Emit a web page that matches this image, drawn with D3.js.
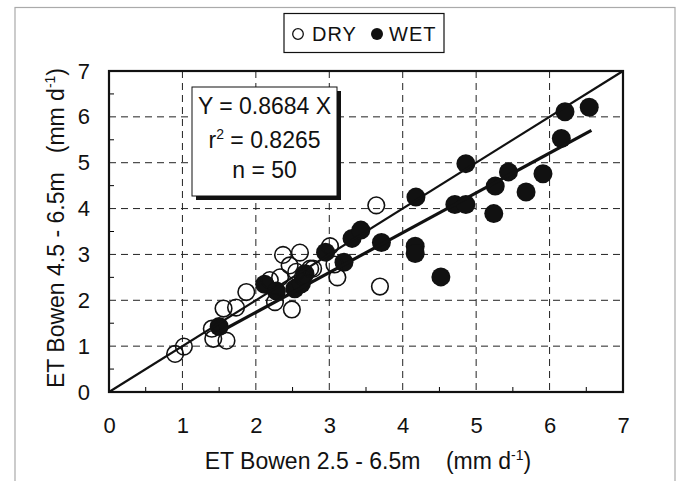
<!DOCTYPE html>
<html><head><meta charset="utf-8">
<script src="https://cdn.jsdelivr.net/npm/d3@7"></script>
<style>body{margin:0;background:#fff}svg{display:block;font-family:"Liberation Sans",Arial,sans-serif}</style>
</head><body>
<svg id="c" width="677" height="481"></svg>
<script>
// ---- data ----
const xTickValues = [0,1,2,3,4,5,6,7];
const yTickValues = [0,1,2,3,4,5,6,7];
const dryX = [0.90,1.02,1.40,1.42,1.60,1.56,1.73,1.87,2.19,2.26,2.33,2.37,2.46,2.49,2.60,2.64,2.74,2.78,3.01,3.07,3.11,3.64,3.69,2.55];
const dryY = [0.83,0.99,1.38,1.16,1.12,1.82,1.84,2.18,2.44,1.96,2.50,2.99,2.76,1.80,3.04,2.51,2.69,2.69,3.18,2.78,2.50,4.07,2.30,2.62];
const wetX = [1.50,2.12,2.28,2.53,2.62,2.67,2.95,3.20,3.31,3.43,3.71,4.18,4.17,4.17,4.52,4.71,4.86,4.86,5.24,5.26,5.44,5.68,5.91,6.16,6.21,6.54];
const wetY = [1.43,2.35,2.20,2.25,2.36,2.58,3.05,2.83,3.35,3.53,3.26,4.25,3.18,3.02,2.51,4.09,4.09,4.98,3.89,4.49,4.80,4.36,4.76,5.53,6.11,6.21];
const slope = 0.8684;
const fitRange = [1.45, 6.57];
const oneToOne = [0, 7];
const statLines = ["Y = 0.8684 X", "r2 = 0.8265", "n = 50"];
const legendLabels = ["DRY", "WET"];

// ---- layout ----
const svg = d3.select("#c");
const L = 109, R = 623, T = 71, B = 392;
const x = d3.scaleLinear().domain([0,7]).range([L,R]);
const y = d3.scaleLinear().domain([0,7]).range([B,T]);

// outer frame
svg.append("rect").attr("x",15).attr("y",7.5).attr("width",660).attr("height",480)
  .attr("fill","none").attr("stroke","#aaa").attr("stroke-width",1.2);

// grid
const g = svg.append("g");
g.selectAll(".vg").data(xTickValues.slice(1,-1)).join("line")
  .attr("x1",d=>x(d)).attr("x2",d=>x(d)).attr("y1",T).attr("y2",B)
  .attr("stroke","#222").attr("stroke-width",1).attr("stroke-dasharray","7,5");
g.selectAll(".hg").data(yTickValues.slice(1,-1)).join("line")
  .attr("y1",d=>y(d)).attr("y2",d=>y(d)).attr("x1",L).attr("x2",R)
  .attr("stroke","#222").attr("stroke-width",1).attr("stroke-dasharray","7,5");

// minor ticks
const halves = d3.range(0.5,7,1);
g.selectAll(".mx").data(halves).join("line")
  .attr("x1",d=>x(d)).attr("x2",d=>x(d)).attr("y1",B).attr("y2",B-5)
  .attr("stroke","#000").attr("stroke-width",1);
g.selectAll(".my").data(halves).join("line")
  .attr("y1",d=>y(d)).attr("y2",d=>y(d)).attr("x1",L).attr("x2",L+5)
  .attr("stroke","#000").attr("stroke-width",1);

// axes labels
const ax = svg.append("g").attr("transform",`translate(0,${B})`)
  .call(d3.axisBottom(x).tickValues(xTickValues).tickSize(0).tickPadding(25).tickFormat(d3.format("d")));
ax.select(".domain").remove();
ax.selectAll("text").attr("font-size",22).attr("fill","#111").attr("font-family","Liberation Sans, Arial, sans-serif");
const ay = svg.append("g").attr("transform",`translate(${L},0)`)
  .call(d3.axisLeft(y).tickValues(yTickValues).tickSize(0).tickPadding(19).tickFormat(d3.format("d")));
ay.select(".domain").remove();
ay.selectAll("text").attr("font-size",22).attr("fill","#111").attr("font-family","Liberation Sans, Arial, sans-serif");

// points
svg.append("g").selectAll("circle").data(d3.zip(wetX,wetY)).join("circle")
  .attr("cx",d=>x(d[0])).attr("cy",d=>y(d[1])).attr("r",9.5).attr("fill","#111");
svg.append("g").selectAll("circle").data(d3.zip(dryX,dryY)).join("circle")
  .attr("cx",d=>x(d[0])).attr("cy",d=>y(d[1])).attr("r",8.3)
  .attr("fill","none").attr("stroke","#111").attr("stroke-width",1.6);

// lines
svg.append("line").attr("x1",x(oneToOne[0])).attr("y1",y(oneToOne[0]))
  .attr("x2",x(oneToOne[1])).attr("y2",y(oneToOne[1])).attr("stroke","#111").attr("stroke-width",2.2);
svg.append("line").attr("x1",x(fitRange[0])).attr("y1",y(slope*fitRange[0]))
  .attr("x2",x(fitRange[1])).attr("y2",y(slope*fitRange[1])).attr("stroke","#111").attr("stroke-width",3.2);

// plot frame
svg.append("rect").attr("x",L).attr("y",T).attr("width",R-L).attr("height",B-T)
  .attr("fill","none").attr("stroke","#111").attr("stroke-width",2.2);

// stats box
const bx=192, by=87, bw=145, bh=109;
svg.append("rect").attr("x",bx+4).attr("y",by+4).attr("width",bw).attr("height",bh).attr("fill","#111");
svg.append("rect").attr("x",bx).attr("y",by).attr("width",bw).attr("height",bh)
  .attr("fill","#fff").attr("stroke","#111").attr("stroke-width",1);
const st = svg.append("g").attr("font-size",23).attr("fill","#111").attr("text-anchor","middle");
st.append("text").attr("x",bx+bw/2).attr("y",114).text(statLines[0]);
const t2 = st.append("text").attr("x",bx+bw/2).attr("y",148);
t2.append("tspan").text("r");
t2.append("tspan").attr("font-size",14).attr("dy",-9).text("2");
t2.append("tspan").attr("dy",9).text(statLines[1].slice(2));
st.append("text").attr("x",bx+bw/2).attr("y",178).text(statLines[2]);

// legend
svg.append("rect").attr("x",284).attr("y",13.5).attr("width",160).attr("height",39)
  .attr("fill","#fff").attr("stroke","#111").attr("stroke-width",1.2);
svg.append("circle").attr("cx",298).attr("cy",34).attr("r",5.3).attr("fill","none").attr("stroke","#111").attr("stroke-width",1.3);
svg.append("text").attr("x",312).attr("y",41).attr("font-size",20).attr("letter-spacing",1).attr("fill","#111").text(legendLabels[0]);
svg.append("circle").attr("cx",377).attr("cy",34).attr("r",6).attr("fill","#111");
svg.append("text").attr("x",389).attr("y",41).attr("font-size",20).attr("letter-spacing",1).attr("fill","#111").text(legendLabels[1]);

// axis titles
const xt = svg.append("text").attr("x",368).attr("y",469).attr("text-anchor","middle")
  .attr("font-size",23).attr("fill","#111").attr("xml:space","preserve");
xt.append("tspan").text("ET Bowen 2.5 - 6.5m    (mm d");
xt.append("tspan").attr("font-size",14).attr("dy",-9).text("-1");
xt.append("tspan").attr("dy",9).text(")");
const yt = svg.append("text").attr("transform",`translate(64,228) rotate(-90)`).attr("text-anchor","middle")
  .attr("font-size",23).attr("fill","#111").attr("xml:space","preserve");
yt.append("tspan").text("ET Bowen 4.5 - 6.5m   (mm d");
yt.append("tspan").attr("font-size",14).attr("dy",-9).text("-1");
yt.append("tspan").attr("dy",9).text(")");
</script>
</body></html>
